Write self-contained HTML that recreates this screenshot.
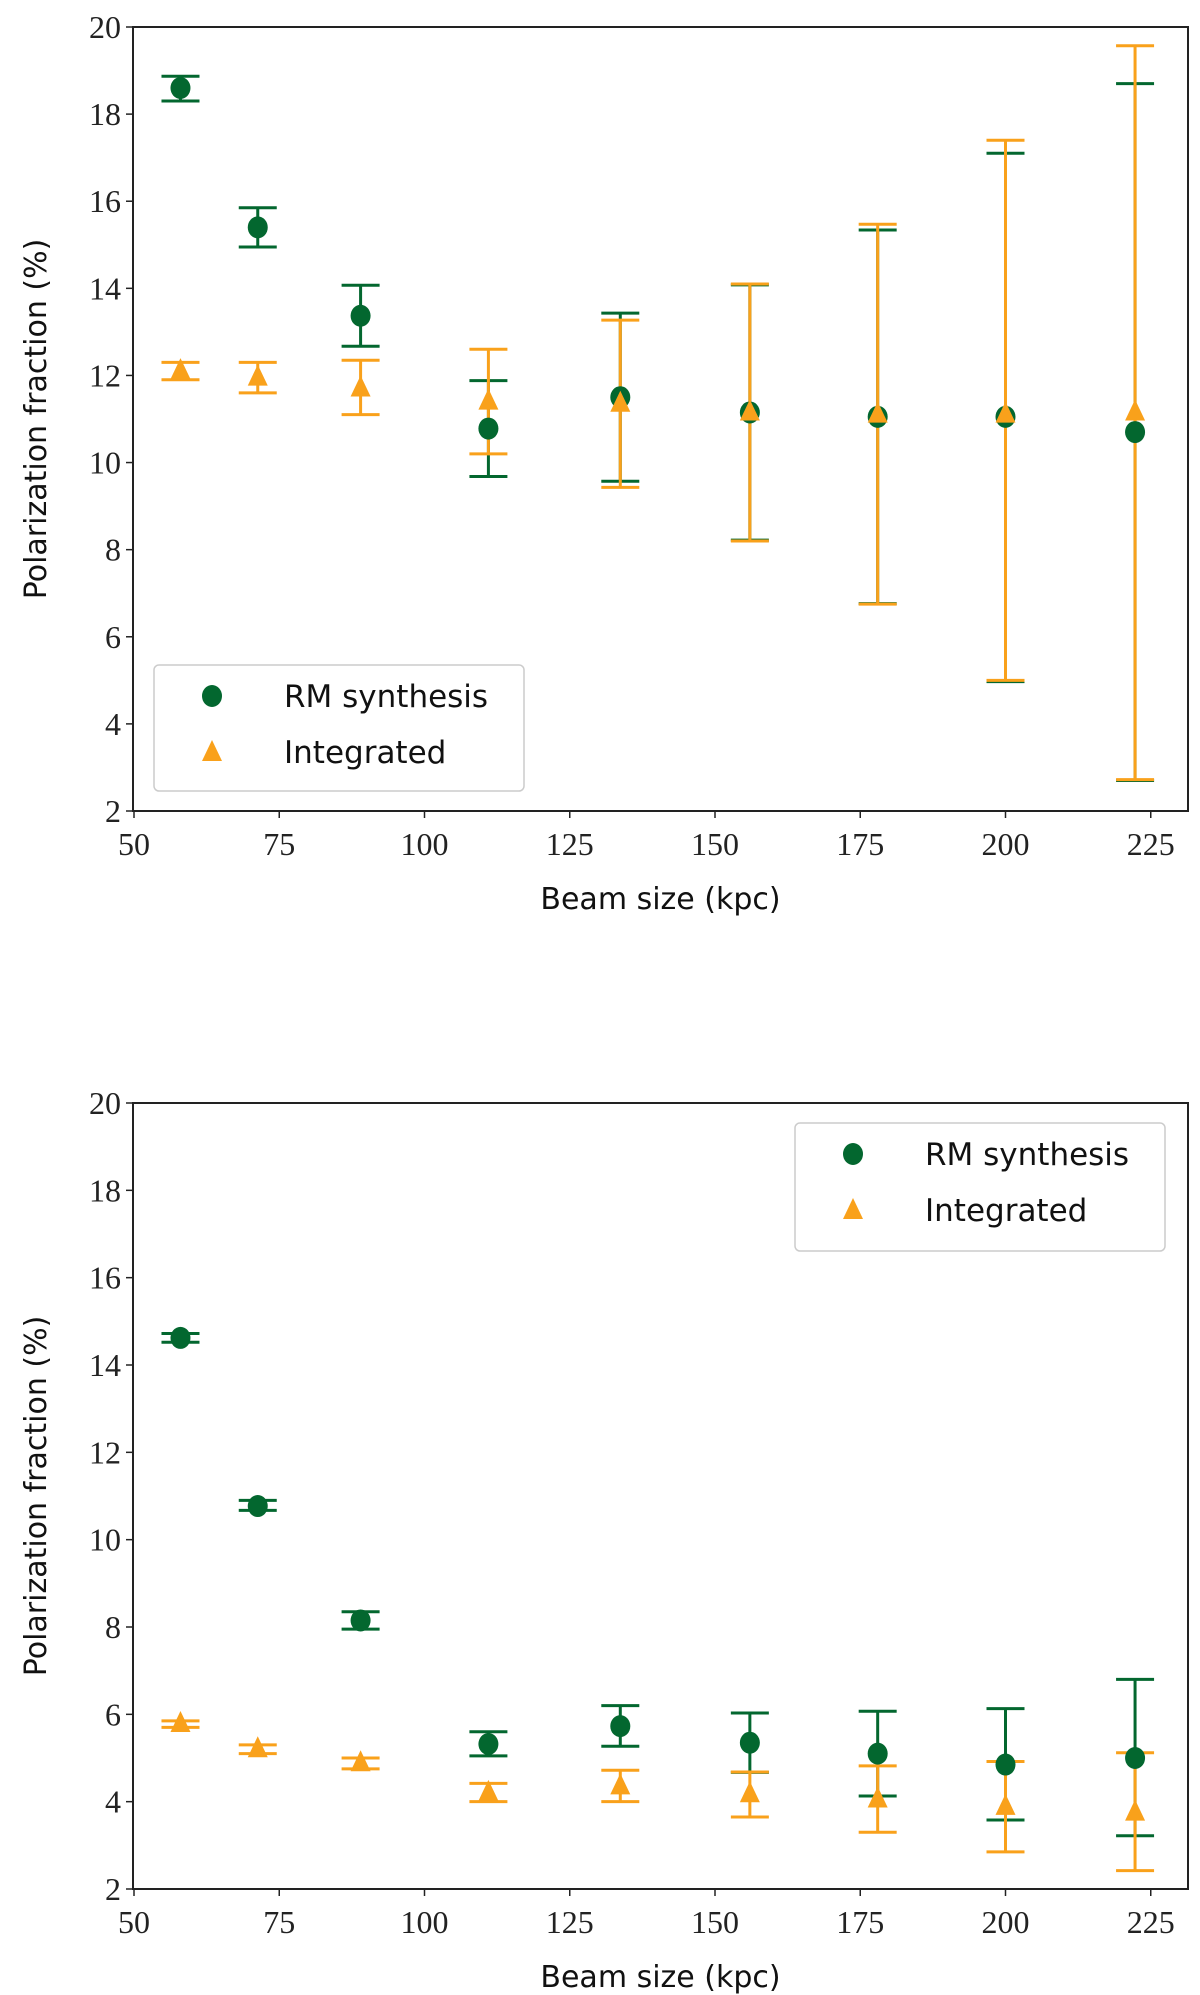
<!DOCTYPE html>
<html><head><meta charset="utf-8"><style>
body{margin:0;background:#fff}
svg{display:block}
.tick{font-family:"Liberation Serif",serif;font-size:32px;fill:#222}
.lab{font-family:"DejaVu Sans","Liberation Sans",sans-serif;font-size:30px;fill:#111}
.leg{font-family:"DejaVu Sans","Liberation Sans",sans-serif;font-size:31px;fill:#111}
</style></head><body>
<svg id="c" width="1200" height="1995" xmlns="http://www.w3.org/2000/svg"></svg>
<script>
const beam = [58, 71.3, 89, 111, 133.7, 156, 178, 200, 222.3];
const rmTop = [18.6, 15.4, 13.37, 10.78, 11.5, 11.15, 11.05, 11.05, 10.7];
const rmTopLo = [18.3, 14.95, 12.67, 9.68, 9.57, 8.22, 6.76, 4.97, 2.7];
const rmTopHi = [18.87, 15.85, 14.07, 11.88, 13.43, 14.08, 15.34, 17.1, 18.7];
const intTop = [12.1, 11.95, 11.7, 11.4, 11.35, 11.15, 11.1, 11.1, 11.15];
const intTopLo = [11.9, 11.6, 11.1, 10.2, 9.43, 8.2, 6.75, 5.0, 2.72];
const intTopHi = [12.3, 12.3, 12.35, 12.6, 13.27, 14.1, 15.47, 17.4, 19.57];
const rmBot = [14.62, 10.77, 8.15, 5.32, 5.73, 5.35, 5.1, 4.85, 5.0];
const rmBotLo = [14.52, 10.67, 7.95, 5.05, 5.27, 4.67, 4.13, 3.58, 3.22];
const rmBotHi = [14.72, 10.9, 8.35, 5.6, 6.2, 6.03, 6.07, 6.13, 6.8];
const intBot = [5.78, 5.2, 4.88, 4.2, 4.35, 4.17, 4.05, 3.88, 3.75];
const intBotLo = [5.7, 5.1, 4.75, 4.0, 4.0, 3.65, 3.3, 2.85, 2.42];
const intBotHi = [5.85, 5.3, 5.0, 4.42, 4.72, 4.68, 4.82, 4.92, 5.12];
const xTicks = [50, 75, 100, 125, 150, 175, 200, 225];
const yTicks = [2, 4, 6, 8, 10, 12, 14, 16, 18, 20];

const NS = "http://www.w3.org/2000/svg";
const svg = document.getElementById('c');
const GREEN = "#03672f", ORANGE = "#f9a11b";
function mk(tag, attrs, parent) {
  const e = document.createElementNS(NS, tag);
  for (const k in attrs) e.setAttribute(k, attrs[k]);
  (parent || svg).appendChild(e);
  return e;
}
const L = 133, R = 1188;
const xs = v => 134 + (v - 50) * 5.81;

function panel(top, bot, name, rm, rmLo, rmHi, it, itLo, itHi, legBox) {
  const g = mk('g', {});
  
  
  const ys = v => bot - (v - 2) / 18 * (bot - top);
  xTicks.forEach(t => {
    const x = xs(t);
    const l = mk('line', {x1: x, x2: x, y1: bot, y2: bot + 7, stroke: '#222', 'stroke-width': 1.5}, g);
     
    const tx = mk('text', {x: x, y: bot + 44, 'text-anchor': 'middle', class: 'tick'}, g);
    tx.textContent = t;
     
  });
  yTicks.forEach(t => {
    const y = ys(t);
    const l = mk('line', {x1: L - 7, x2: L, y1: y, y2: y, stroke: '#222', 'stroke-width': 1.5}, g);
     
    const tx = mk('text', {x: L - 12, y: y + 11, 'text-anchor': 'end', class: 'tick'}, g);
    tx.textContent = t;
     
  });
  const xl = mk('text', {x: (L + R) / 2, y: bot + 98, 'text-anchor': 'middle', class: 'lab'}, g);
  xl.textContent = 'Beam size (kpc)';
   
  const yl = mk('text', {x: 0, y: 0, 'text-anchor': 'middle', class: 'lab', transform: `translate(46,${(top + bot) / 2}) rotate(-90)`}, g);
  yl.textContent = 'Polarization fraction (%)';
   

  function errbars(vals, lo, hi, color, sname) {
    beam.forEach((b, i) => {
      const x = xs(b);
      const e = mk('path', {d: `M${x},${ys(lo[i])}V${ys(hi[i])}M${x - 19},${ys(lo[i])}h38M${x - 19},${ys(hi[i])}h38`, stroke: color, 'stroke-width': 3, fill: 'none'}, g);
       
    });
  }
  errbars(rm, rmLo, rmHi, GREEN, 'rm-synthesis');
  errbars(it, itLo, itHi, ORANGE, 'integrated');
  beam.forEach((b, i) => {
    const c = mk('ellipse', {cx: xs(b), cy: ys(rm[i]), rx: 10, ry: 11, fill: GREEN}, g);
     
  });
  beam.forEach((b, i) => {
    const x = xs(b), y = ys(it[i]);
    const t = mk('path', {d: `M${x},${y - 13}L${x + 10},${y + 8}L${x - 10},${y + 8}Z`, fill: ORANGE}, g);
     
  });
  const fr = mk('rect', {x: L, y: top, width: R - L, height: bot - top, fill: 'none', stroke: '#222', 'stroke-width': 2}, g);
   

  const [lx, ly, lw, lh] = legBox;
  const lg = mk('g', {}, g);
   
  mk('rect', {x: lx, y: ly, width: lw, height: lh, rx: 5, fill: '#fff', stroke: '#ccc', 'stroke-width': 1.5}, lg);
  const e1 = mk('ellipse', {cx: lx + 58, cy: ly + 31, rx: 10, ry: 11, fill: GREEN}, lg);
   
  const t1 = mk('text', {x: lx + 130, y: ly + 42, class: 'leg'}, lg);
  t1.textContent = 'RM synthesis';
   
  const e2 = mk('path', {d: `M${lx + 58},${ly + 75}l10,21h-20Z`, fill: ORANGE}, lg);
   
  const t2 = mk('text', {x: lx + 130, y: ly + 98, class: 'leg'}, lg);
  t2.textContent = 'Integrated';
   
}
panel(27, 811, 'top-panel', rmTop, rmTopLo, rmTopHi, intTop, intTopLo, intTopHi, [154, 665, 370, 126]);
panel(1103, 1889, 'bottom-panel', rmBot, rmBotLo, rmBotHi, intBot, intBotLo, intBotHi, [795, 1123, 370, 128]);
</script>
</body></html>
